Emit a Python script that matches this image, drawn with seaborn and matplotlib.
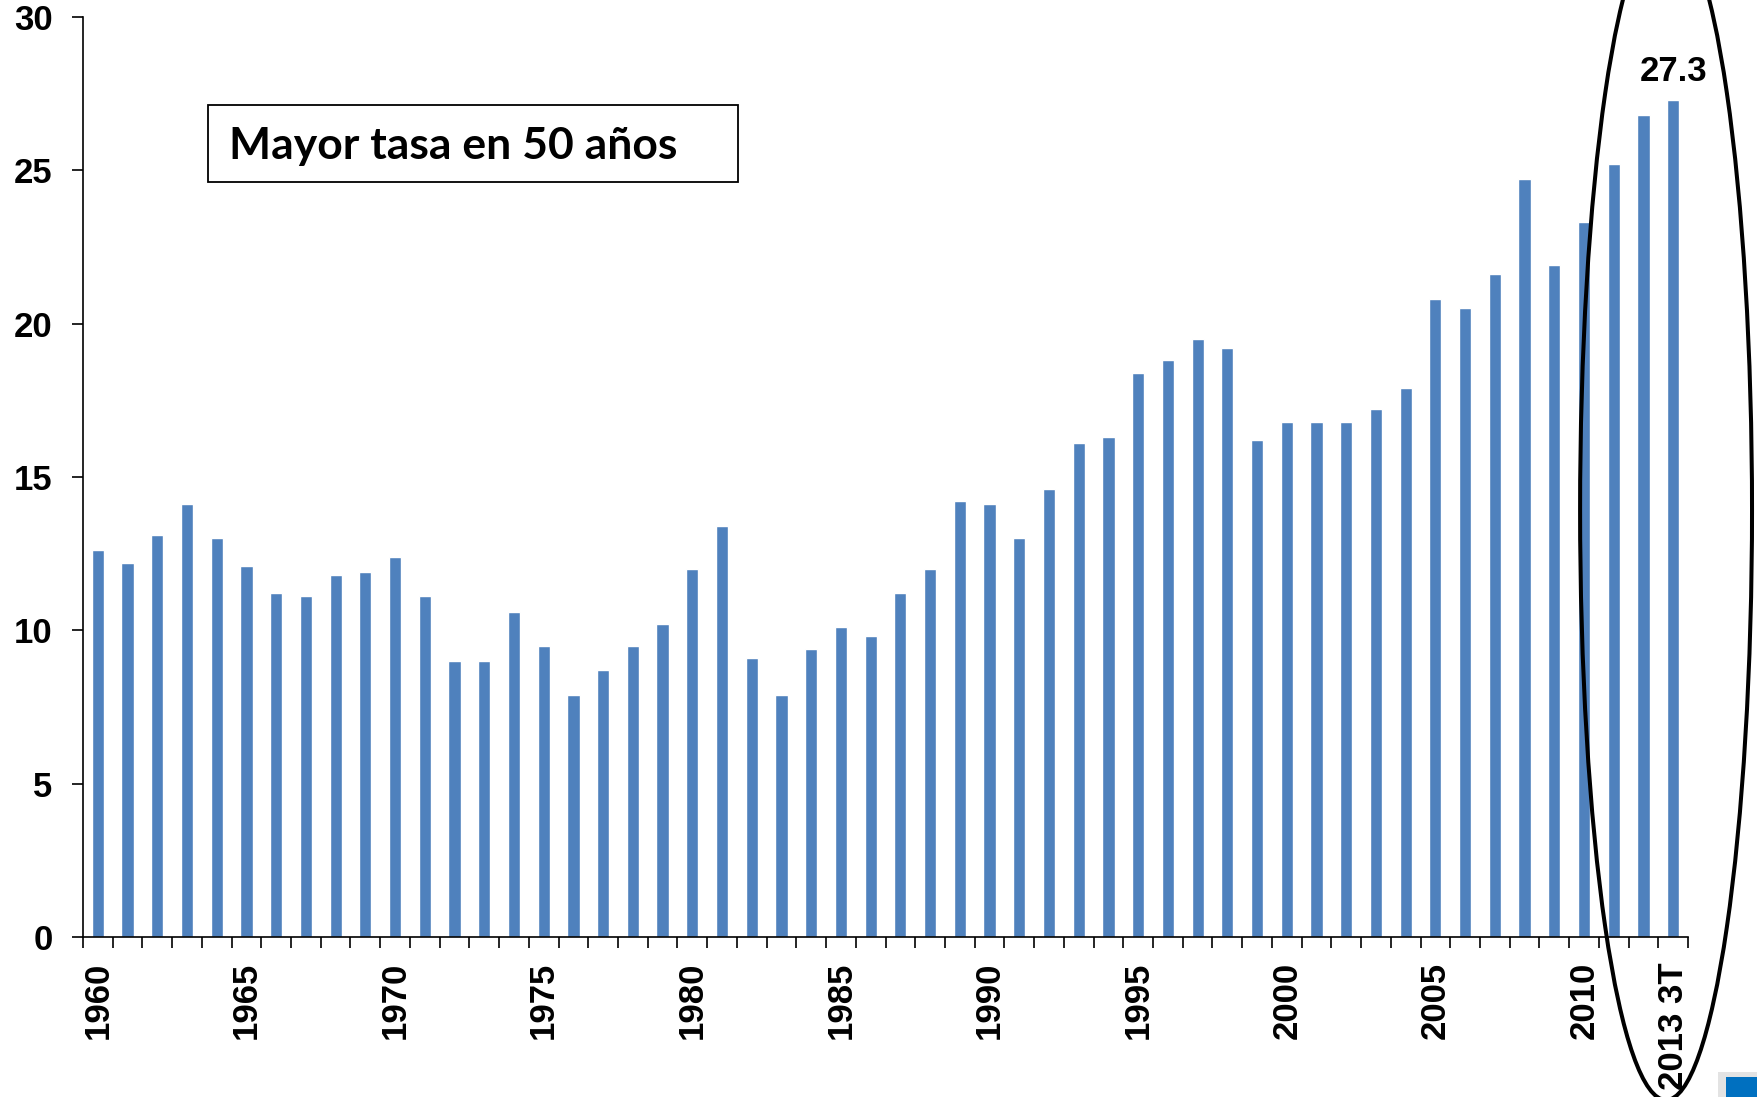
import matplotlib
matplotlib.use("Agg")
import matplotlib.pyplot as plt
import seaborn as sns
import pandas as pd
from matplotlib.patches import Ellipse, Rectangle

# Yearly rate, 1960 to the third quarter of 2013
periods = [str(y) for y in range(1960, 2013)] + ["2013 3T"]
rates = [
    12.6, 12.2, 13.1, 14.1, 13.0, 12.1, 11.2, 11.1, 11.8, 11.9,   # 1960-1969
    12.4, 11.1, 9.0, 9.0, 10.6, 9.5, 7.9, 8.7, 9.5, 10.2,          # 1970-1979
    12.0, 13.4, 9.1, 7.9, 9.4, 10.1, 9.8, 11.2, 12.0, 14.2,         # 1980-1989
    14.1, 13.0, 14.6, 16.1, 16.3, 18.4, 18.8, 19.5, 19.2, 16.2,     # 1990-1999
    16.8, 16.8, 16.8, 17.2, 17.9, 20.8, 20.5, 21.6, 24.7, 21.9,     # 2000-2009
    23.3, 25.2, 26.8, 27.3,                                         # 2010-2013 3T
]
shown_labels = ["1960", "1965", "1970", "1975", "1980", "1985", "1990",
                "1995", "2000", "2005", "2010", "2013 3T"]
y_ticks = [0, 5, 10, 15, 20, 25, 30]
box_text = "Mayor tasa en 50 años"

BAR_COLOR = "#4F81BD"

df = pd.DataFrame({"periodo": periods, "tasa": rates})

sns.set_style("ticks")
plt.rcParams["font.family"] = ["Liberation Sans", "DejaVu Sans"]
plt.rcParams["text.color"] = "black"
plt.rcParams["xtick.color"] = "black"
plt.rcParams["ytick.color"] = "black"
plt.rcParams["axes.edgecolor"] = "black"

fig = plt.figure(figsize=(17.58, 10.97), dpi=100)
ax = fig.add_axes([0.0472, 0.1459, 0.9602 - 0.0472, 0.9847 - 0.1459])

sns.barplot(data=df, x="periodo", y="tasa", color=BAR_COLOR, saturation=1,
            width=0.41, ax=ax)

n = len(periods)
ax.set_xlim(-0.5, n - 0.5)
ax.set_ylim(0, 30)
ax.set_xlabel("")
ax.set_ylabel("")

# y axis
ax.set_yticks(y_ticks)
ax.set_yticklabels([str(t) for t in y_ticks], fontsize=25, fontweight="bold",
                   color="black")
ax.tick_params(axis="y", length=8, width=1.2, pad=14, color="black")

# x axis: labels under selected bars, tick marks on category boundaries
ax.set_xticks(range(n))
ax.set_xticklabels([p if p in shown_labels else "" for p in periods],
                   rotation=90, fontsize=25, fontweight="bold", color="black")
ax.tick_params(axis="x", which="major", length=0, pad=18)
ax.set_xticks([i - 0.5 for i in range(n + 1)], minor=True)
ax.tick_params(axis="x", which="minor", length=8, width=1.2, color="black")

sns.despine(ax=ax)
for side in ("left", "bottom"):
    ax.spines[side].set_linewidth(1.2)
    ax.spines[side].set_color("black")

# value of the latest period
ax.annotate(f"{rates[-1]}", xy=(n - 1, rates[-1]), xytext=(0, 8),
            textcoords="offset points", ha="center", va="bottom",
            fontsize=25, fontweight="bold", color="black")

# framed caption
fig.add_artist(Rectangle((0.1183, 0.8337), 0.3013, 0.0702,
                         transform=fig.transFigure, fill=False,
                         lw=1.3, ec="black"))
fig.text(0.1303, 0.855, box_text, fontsize=32, fontweight="bold",
         family=["Lato", "DejaVu Sans"], ha="left", va="baseline",
         color="black")

# ellipse around the most recent years
fig.add_artist(Ellipse((0.9477, 0.5351), 0.0978, 1.0757,
                       transform=fig.transFigure, fill=False,
                       lw=2.9, ec="black", clip_on=False, zorder=5))

# small corner marker
fig.add_artist(Rectangle((0.9773, 0.0), 0.0227, 0.0228,
                         transform=fig.transFigure, fc="#E3E3E3", ec="none"))
fig.add_artist(Rectangle((0.9818, 0.0), 0.0182, 0.0182,
                         transform=fig.transFigure, fc="#0070C0", ec="none"))

fig.savefig("out.png", dpi=100)
